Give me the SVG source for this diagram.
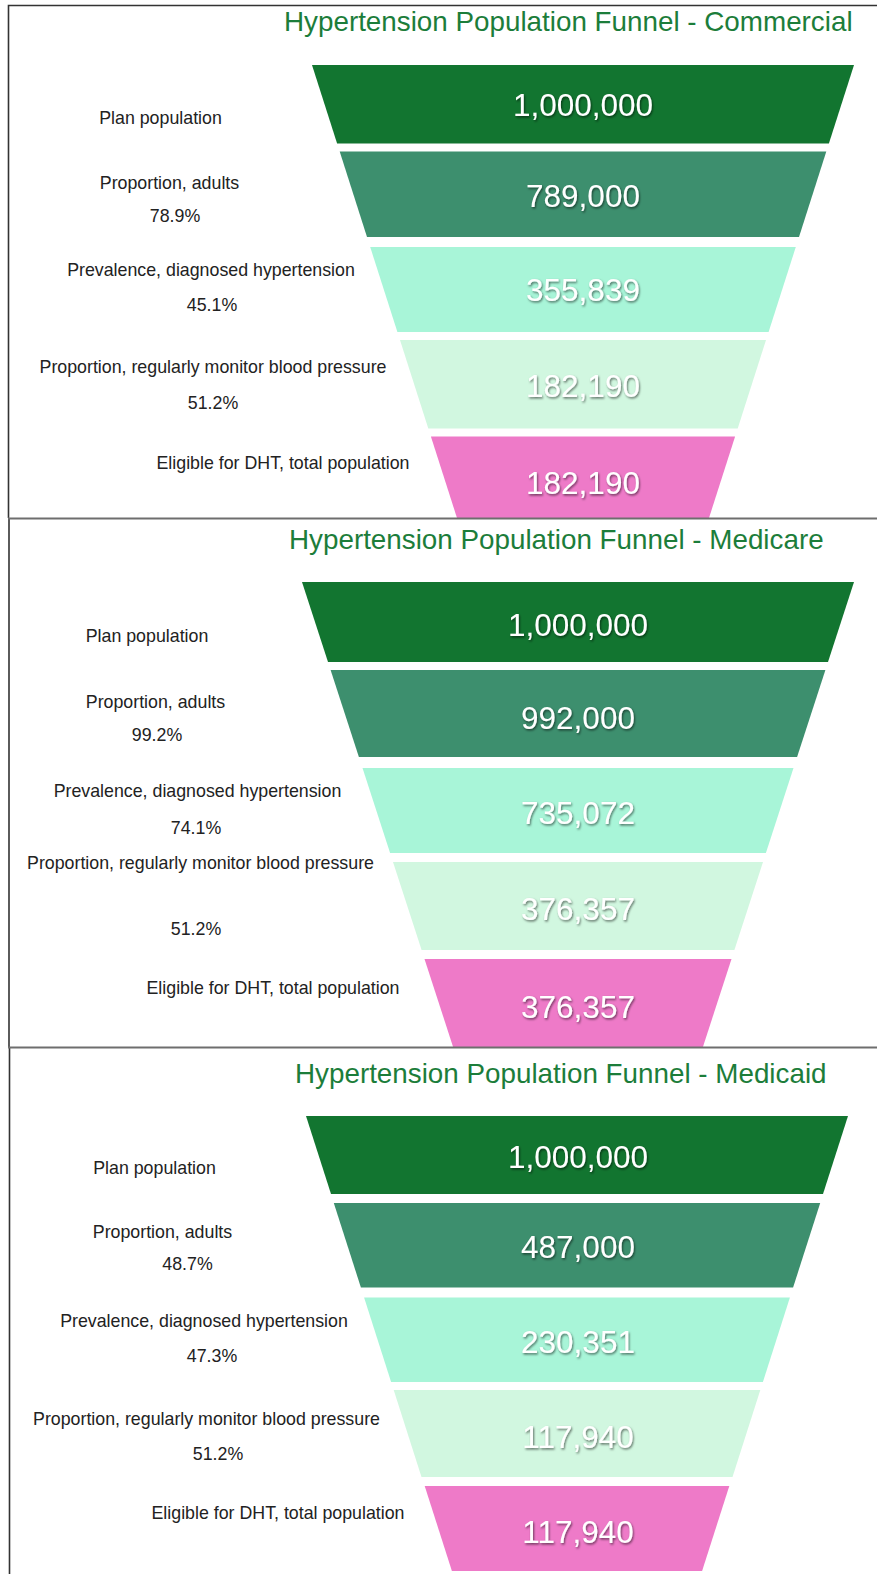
<svg xmlns="http://www.w3.org/2000/svg" width="877" height="1574" viewBox="0 0 877 1574">
<style>
.title{font-family:"Liberation Sans",Arial,sans-serif;font-size:27.8px;fill:#1c7d3a}
.lbl{font-family:"Liberation Sans",Arial,sans-serif;font-size:17.8px;fill:#222;text-anchor:middle;dominant-baseline:central}
.num{font-family:"Liberation Sans",Arial,sans-serif;font-size:31.5px;fill:#fff;text-anchor:middle;dominant-baseline:central;filter:url(#sh)}
.b1{fill:#127530}.b2{fill:#3d8f6e}.b3{fill:#a8f5d8}.b4{fill:#d1f7e0}.b5{fill:#ee7ac8}
.frame{stroke:#333;stroke-width:1.6;fill:none}
.sep{stroke:#6e6e6e;stroke-width:2.2;fill:none}
</style>
<defs>
<filter id="sh" x="-10%" y="-30%" width="130%" height="170%">
<feDropShadow dx="1" dy="1.5" stdDeviation="1" flood-color="#000" flood-opacity="0.55"/>
</filter>
</defs>
<rect width="877" height="1574" fill="#fff"/>

<g id="panel-commercial">
<text class="title" x="284" y="31">Hypertension Population Funnel - Commercial</text>
<g id="c-plan"><polygon class="b1" points="312,65 854,65 828.9,143.5 337.1,143.5"/><text class="num" x="583" y="105">1,000,000</text><text class="lbl" x="160.5" y="117.5">Plan population</text></g>
<g id="c-adults"><polygon class="b2" points="339.7,151.5 826.3,151.5 799,237 367,237"/><text class="num" x="583" y="196">789,000</text><text class="lbl" x="169.5" y="182.5">Proportion, adults</text><text class="lbl" x="175" y="216">78.9%</text></g>
<g id="c-prev"><polygon class="b3" points="370.2,247 795.8,247 768.6,332 397.4,332"/><text class="num" x="583" y="290">355,839</text><text class="lbl" x="211" y="270">Prevalence, diagnosed hypertension</text><text class="lbl" x="212" y="305">45.1%</text></g>
<g id="c-monitor"><polygon class="b4" points="400,340 766,340 737.7,428.5 428.3,428.5"/><text class="num" x="583" y="385.5">182,190</text><text class="lbl" x="213" y="367">Proportion, regularly monitor blood pressure</text><text class="lbl" x="213" y="403">51.2%</text></g>
<g id="c-eligible"><polygon class="b5" points="430.9,436.5 735.1,436.5 709,518 457,518"/><text class="num" x="583" y="482.5">182,190</text><text class="lbl" x="283" y="462.5">Eligible for DHT, total population</text></g>
</g>

<g id="panel-medicare">
<text class="title" x="289" y="549">Hypertension Population Funnel - Medicare</text>
<g id="m-plan"><polygon class="b1" points="302,582 854,582 828,662 328,662"/><text class="num" x="578" y="625">1,000,000</text><text class="lbl" x="147" y="636">Plan population</text></g>
<g id="m-adults"><polygon class="b2" points="330.6,670 825.4,670 797.1,757 358.9,757"/><text class="num" x="578" y="717.5">992,000</text><text class="lbl" x="155.5" y="702">Proportion, adults</text><text class="lbl" x="157" y="734.5">99.2%</text></g>
<g id="m-prev"><polygon class="b3" points="362.5,768 793.5,768 765.9,853 390.1,853"/><text class="num" x="578" y="813">735,072</text><text class="lbl" x="197.5" y="791">Prevalence, diagnosed hypertension</text><text class="lbl" x="196" y="828">74.1%</text></g>
<g id="m-monitor"><polygon class="b4" points="393,862 763,862 734.4,950 421.6,950"/><text class="num" x="578" y="909">376,357</text><text class="lbl" x="200.5" y="863">Proportion, regularly monitor blood pressure</text><text class="lbl" x="196" y="929">51.2%</text></g>
<g id="m-eligible"><polygon class="b5" points="424.5,959 731.5,959 702.9,1047 453.1,1047"/><text class="num" x="578" y="1006.5">376,357</text><text class="lbl" x="273" y="987.5">Eligible for DHT, total population</text></g>
</g>

<g id="panel-medicaid">
<text class="title" x="295" y="1083">Hypertension Population Funnel - Medicaid</text>
<g id="d-plan"><polygon class="b1" points="306,1116 848,1116 823,1194 331,1194"/><text class="num" x="578" y="1157">1,000,000</text><text class="lbl" x="154.5" y="1168">Plan population</text></g>
<g id="d-adults"><polygon class="b2" points="333.8,1203 820.2,1203 793.1,1287.5 360.9,1287.5"/><text class="num" x="578" y="1247">487,000</text><text class="lbl" x="162.5" y="1232">Proportion, adults</text><text class="lbl" x="187.5" y="1264">48.7%</text></g>
<g id="d-prev"><polygon class="b3" points="364.1,1297.5 789.9,1297.5 762.9,1382 391.1,1382"/><text class="num" x="578" y="1342">230,351</text><text class="lbl" x="204" y="1320.5">Prevalence, diagnosed hypertension</text><text class="lbl" x="212" y="1356">47.3%</text></g>
<g id="d-monitor"><polygon class="b4" points="393.7,1390 760.3,1390 732.5,1477 421.5,1477"/><text class="num" x="578" y="1437">117,940</text><text class="lbl" x="206.5" y="1419">Proportion, regularly monitor blood pressure</text><text class="lbl" x="218" y="1454">51.2%</text></g>
<g id="d-eligible"><polygon class="b5" points="424.7,1486 729.3,1486 702.1,1571 451.9,1571"/><text class="num" x="578" y="1532">117,940</text><text class="lbl" x="278" y="1513">Eligible for DHT, total population</text></g>
</g>

<g id="frames">
<path class="frame" d="M877,5.5 H8.5 V518"/>
<path class="frame" d="M9,518 V1047"/>
<path class="frame" d="M9.5,1047 V1574"/>
<path class="sep" d="M8,518.5 H877"/>
<path class="sep" d="M8,1047.5 H877"/>
</g>
</svg>
